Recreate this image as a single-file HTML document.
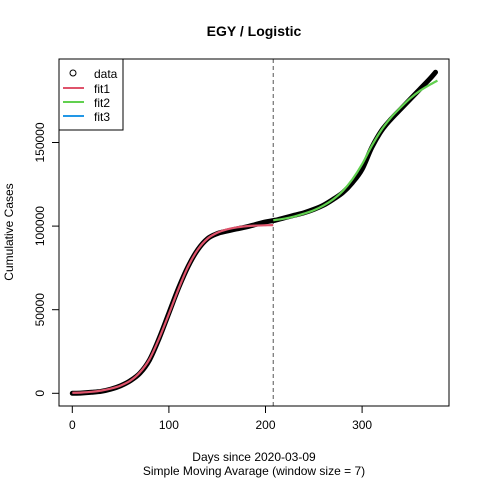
<!DOCTYPE html>
<html><head><meta charset="utf-8"><style>
body{margin:0;background:#fff}
text{font-family:"Liberation Sans",Arial,sans-serif}
</style></head><body>
<svg id="c" width="480" height="480" xmlns="http://www.w3.org/2000/svg">
<rect width="480" height="480" fill="#fff"/>
<text x="254" y="36" text-anchor="middle" font-size="14" font-weight="bold">EGY / Logistic</text>
<text x="254" y="461" text-anchor="middle" font-size="12">Days since 2020-03-09</text>
<text x="254" y="475" text-anchor="middle" font-size="12">Simple Moving Avarage (window size = 7)</text>
<text transform="translate(13,232) rotate(-90)" text-anchor="middle" font-size="12">Cumulative Cases</text>
<g id="plot"></g>
<rect x="59" y="59" width="390" height="347" fill="none" stroke="#000"/>
<g>
<rect x="59" y="59" width="64" height="71" fill="#fff" stroke="#000"/>
<circle cx="73" cy="73" r="3" fill="none" stroke="#000"/>
<text x="94" y="78" font-size="12">data</text>
<line x1="63" y1="88" x2="84" y2="88" stroke="#DF536B" stroke-width="2"/>
<text x="94" y="93" font-size="12">fit1</text>
<line x1="63" y1="102" x2="84" y2="102" stroke="#61D04F" stroke-width="2"/>
<text x="94" y="107" font-size="12">fit2</text>
<line x1="63" y1="116" x2="84" y2="116" stroke="#2297E6" stroke-width="2"/>
<text x="94" y="121" font-size="12">fit3</text>
</g>
</svg>
<script>
const days=[0,10,20,30,40,50,60,70,80,90,100,110,120,130,140,150,160,170,180,190,200,210,220,230,240,250,260,270,280,290,300,310,320,330,340,350,360,370,376];
const cases=[0,200,600,1200,2500,4500,7500,12000,20000,33000,48000,63000,76000,86000,92500,95500,97000,98300,99500,101000,102500,103500,105000,106500,108000,110000,112500,116000,120000,126000,134000,147000,157000,164000,170000,176000,182000,188000,192000];
const fit1Days=[0,10,20,30,40,50,60,70,80,90,100,110,120,130,140,150,160,170,180,190,200,208];
const fit1Vals=[300,500,900,1600,2800,4600,7500,12500,20500,33000,47500,62500,76000,86000,92500,96000,98000,99200,99900,100300,100500,100600];
const fit2Days=[208,220,230,240,250,260,270,280,290,300,310,320,330,340,350,360,370,378];
const fit2Vals=[103500,104500,105800,107500,109500,112300,116000,121000,128000,137000,148000,157500,165000,171000,176500,181000,184500,187000];
const xTicks=[0,100,200,300];
const yTicks=[0,50000,100000,150000];
const vline=208;
const X=d=>72.3+d*0.966;
const Y=v=>393.3-v*83.6/50000;
const NS='http://www.w3.org/2000/svg';
const g=document.getElementById('plot');
function mk(t,a){const e=document.createElementNS(NS,t);for(const k in a)e.setAttribute(k,a[k]);g.appendChild(e);return e;}
xTicks.forEach(t=>{
 const l=mk('line',{x1:X(t),x2:X(t),y1:406,y2:413,stroke:'#000'});
 
 
 const tx=mk('text',{x:X(t),y:429,'text-anchor':'middle','font-size':12});tx.textContent=t;
 
 
});
yTicks.forEach(t=>{
 const l=mk('line',{x1:52,x2:59,y1:Y(t),y2:Y(t),stroke:'#000'});
 
 
 const tx=mk('text',{transform:`translate(44,${Y(t)}) rotate(-90)`,'text-anchor':'middle','font-size':12});tx.textContent=t;
 
 
});
const vl=mk('line',{x1:X(vline),x2:X(vline),y1:59,y2:406,stroke:'#555','stroke-dasharray':'4,3'});


function smooth(ds,vs){
 const p=ds.map((d,i)=>[X(d),Y(vs[i])]);
 let s='M'+p[0][0]+','+p[0][1];
 for(let i=0;i<p.length-1;i++){
  const p0=p[i-1]||p[i],p1=p[i],p2=p[i+1],p3=p[i+2]||p2;
  const c1=[p1[0]+(p2[0]-p0[0])/6,p1[1]+(p2[1]-p0[1])/6];
  const c2=[p2[0]-(p3[0]-p1[0])/6,p2[1]-(p3[1]-p1[1])/6];
  s+=` C${c1[0]},${c1[1]} ${c2[0]},${c2[1]} ${p2[0]},${p2[1]}`;
 }
 return s;
}
const dl=mk('path',{d:smooth(days,cases),fill:'none',stroke:'#000','stroke-width':5,'stroke-linejoin':'round','stroke-linecap':'round'});


const f1=mk('path',{d:smooth(fit1Days,fit1Vals),fill:'none',stroke:'#DF536B','stroke-width':2.2});


const f2=mk('path',{d:smooth(fit2Days,fit2Vals),fill:'none',stroke:'#61D04F','stroke-width':2.2});


</script>
</body></html>
